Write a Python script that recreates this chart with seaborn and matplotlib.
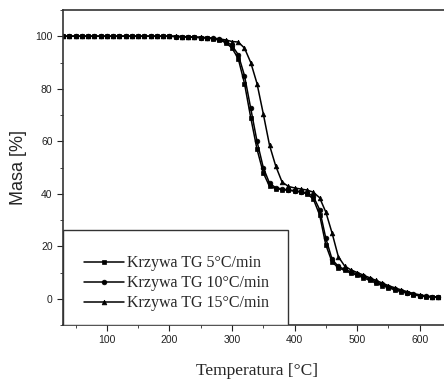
import numpy as np
import pandas as pd
import matplotlib
matplotlib.use("Agg")
import matplotlib.pyplot as plt
from matplotlib.ticker import MultipleLocator
from matplotlib.patches import Rectangle
import seaborn as sns

temperature = list(range(30, 640, 10))

mass_5 = [100, 100, 100, 100, 100, 100, 100, 100, 100, 100,
          100, 100, 100, 100, 100, 100, 100, 100, 99.9, 99.8,
          99.7, 99.6, 99.5, 99.3, 99.0, 98.5, 97.6, 95.5, 91.5, 82.0,
          69.0, 57.0, 48.0, 42.8, 42.0, 41.6, 41.3, 41.0, 40.6, 40.0,
          38.0, 32.0, 20.5, 14.0, 11.8, 10.8, 9.8, 9.0, 8.0, 7.0,
          6.0, 5.0, 4.2, 3.4, 2.7, 2.1, 1.5, 1.1, 0.8, 0.6, 0.5]

mass_10 = [100, 100, 100, 100, 100, 100, 100, 100, 100, 100,
           100, 100, 100, 100, 100, 100, 100, 100, 99.9, 99.8,
           99.7, 99.6, 99.5, 99.4, 99.2, 98.8, 98.0, 96.5, 93.0, 85.0,
           72.5, 60.0, 50.0, 44.0, 42.3, 41.8, 41.5, 41.2, 40.8, 40.3,
           39.0, 34.0, 23.0, 15.0, 12.3, 11.2, 10.3, 9.4, 8.5, 7.5,
           6.5, 5.5, 4.6, 3.8, 3.0, 2.3, 1.7, 1.2, 0.9, 0.7, 0.6]

mass_15 = [100, 100, 100, 100, 100, 100, 100, 100, 100, 100,
           100, 100, 100, 100, 100, 100, 100, 100, 100, 99.9,
           99.8, 99.7, 99.6, 99.5, 99.3, 99.0, 98.6, 98.0, 97.8, 95.5,
           90.0, 82.0, 70.5, 58.5, 50.5, 44.5, 42.8, 42.2, 41.8, 41.4,
           40.6, 38.5, 33.0, 25.0, 16.0, 12.5, 11.0, 10.0, 9.0, 8.0,
           7.0, 6.0, 5.0, 4.2, 3.4, 2.7, 2.0, 1.5, 1.1, 0.8, 0.7]

labels = ["Krzywa TG 5\u00b0C/min", "Krzywa TG 10\u00b0C/min", "Krzywa TG 15\u00b0C/min"]
markers = ["s", "o", "^"]

df = pd.concat([
    pd.DataFrame({"T": temperature, "m": mass_5, "s": labels[0]}),
    pd.DataFrame({"T": temperature, "m": mass_10, "s": labels[1]}),
    pd.DataFrame({"T": temperature, "m": mass_15, "s": labels[2]}),
])

sns.set_style("ticks")
plt.rcParams["font.family"] = ["Liberation Sans", "DejaVu Sans"]

fig = plt.figure(figsize=(4.44, 3.82), dpi=100)
ax = fig.add_axes([63 / 444, (382 - 325) / 382, 388 / 444, 315 / 382])

sns.lineplot(data=df, x="T", y="m", hue="s", style="s",
             palette=["black"] * 3, markers=markers, dashes=False,
             markersize=3.4, linewidth=1.1, markeredgewidth=0.5,
             markeredgecolor="black",
             ax=ax, legend=True)

ax.set_xlim(30, 650)
ax.set_ylim(-10, 110)
ax.xaxis.set_major_locator(MultipleLocator(100))
ax.xaxis.set_minor_locator(MultipleLocator(50))
ax.yaxis.set_major_locator(MultipleLocator(20))
ax.yaxis.set_minor_locator(MultipleLocator(10))
ax.tick_params(which="major", direction="out", length=4, width=0.8, labelsize=7.5, colors="#222222")
ax.tick_params(which="minor", direction="out", length=2.5, width=0.6)
for sp in ax.spines.values():
    sp.set_color("#333333")
    sp.set_linewidth(1.2)
ax.spines["right"].set_visible(False)

ax.set_xlabel("Temperatura [\u00b0C]", family=["Liberation Serif", "DejaVu Serif"], fontsize=12.5, labelpad=13)
ax.set_ylabel("Masa [%]", fontsize=13, labelpad=6)

# legend box
ax.add_patch(Rectangle((0, 0), (288 - 63) / 388, (325 - 230) / 315,
                       transform=ax.transAxes, facecolor="white",
                       edgecolor="#333333", linewidth=1.0, zorder=4))

handles, _ = ax.get_legend_handles_labels()
for h in handles:
    h.set_markeredgecolor("black")
leg = ax.legend(handles, labels, loc="lower left", bbox_to_anchor=(0.055, 0.043),
                borderaxespad=0, frameon=False,
                prop={"family": ["Liberation Serif", "DejaVu Serif"], "size": 11.5},
                handlelength=2.5, handletextpad=0.2, labelspacing=0.25,
                borderpad=0)
leg.set_zorder(5)

fig.savefig("out.png", dpi=100)
